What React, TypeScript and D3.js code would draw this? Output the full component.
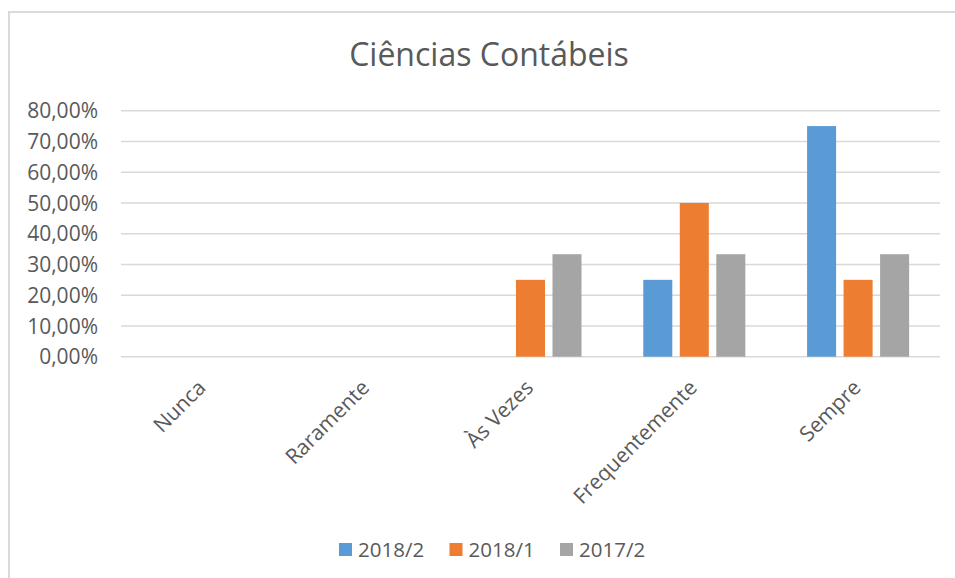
import { useEffect, useRef } from 'react';
import * as d3 from 'd3';

const categories = ['Nunca', 'Raramente', 'Às Vezes', 'Frequentemente', 'Sempre'];
const seriesNames = ['2018/2', '2018/1', '2017/2'];
const serie20182 = [0, 0, 0, 25, 75];
const serie20181 = [0, 0, 25, 50, 25];
const serie20172 = [0, 0, 33.33, 33.33, 33.33];
const yTicks = [0, 10, 20, 30, 40, 50, 60, 70, 80];
const colors = ['#5b9bd5', '#ed7d31', '#a5a5a5'];

const App = () => {
    const chartRef = useRef<SVGSVGElement>(null);

    useEffect(() => {
        const width = 955;
        const height = 578;
        const marginLeft = 121;
        const marginRight = 15;
        const plotTop = 110.7;
        const plotBottom = 356.7;
        const font = '"Open Sans", sans-serif';
        const textColor = '#595959';

        const svg = d3.select(chartRef.current);
        svg.selectAll('*').remove();
        svg.attr('width', width).attr('height', height);

        // moldura do gráfico (só esquerda e topo aparecem)
        svg.append('path')
            .attr('d', `M9,${height} V12 H${width}`)
            .attr('fill', 'none')
            .attr('stroke', '#d9d9d9')
            .attr('stroke-width', 2);

        svg.append('text')
            .attr('x', 489)
            .attr('y', 65.5)
            .attr('text-anchor', 'middle')
            .attr('font-family', font)
            .attr('font-size', 32)
            .attr('fill', textColor)
            .text('Ciências Contábeis');

        const series = [serie20182, serie20181, serie20172];

        const x0 = d3.scaleBand<string>()
            .domain(categories)
            .range([marginLeft, width - marginRight])
            .paddingInner(0.377)
            .paddingOuter(0.1885);

        const x1 = d3.scaleBand<string>()
            .domain(seriesNames)
            .range([0, x0.bandwidth()])
            .paddingInner(0.205);

        const y = d3.scaleLinear()
            .domain([0, 80])
            .range([plotBottom, plotTop]);

        // linhas de grade
        svg.append('g')
            .selectAll('line')
            .data(yTicks)
            .join('line')
            .attr('x1', marginLeft)
            .attr('x2', width - marginRight)
            .attr('y1', d => y(d))
            .attr('y2', d => y(d))
            .attr('stroke', '#d9d9d9')
            .attr('stroke-width', 1.4);

        svg.append('g')
            .selectAll('text')
            .data(yTicks)
            .join('text')
            .attr('x', 98)
            .attr('y', d => y(d))
            .attr('dy', '0.36em')
            .attr('text-anchor', 'end')
            .attr('font-family', font)
            .attr('font-size', 21)
            .attr('fill', textColor)
            .text(d => d3.format('.2f')(d).replace('.', ',') + '%');

        // barras
        const groups = svg.append('g')
            .selectAll('g')
            .data(categories)
            .join('g')
            .attr('transform', d => `translate(${x0(d)},0)`);

        groups.selectAll('rect')
            .data((d, i) => seriesNames.map((s, j) => ({ s, v: series[j][i], c: colors[j] })))
            .join('rect')
            .filter(d => d.v > 0)
            .attr('x', d => x1(d.s)!)
            .attr('y', d => y(d.v))
            .attr('width', x1.bandwidth())
            .attr('height', d => y(0) - y(d.v))
            .attr('fill', d => d.c);

        // rótulos das categorias
        svg.append('g')
            .selectAll('text')
            .data(categories)
            .join('text')
            .attr('transform', d => `translate(${x0(d)! + x0.bandwidth() / 2 + 4},389) rotate(-45)`)
            .attr('text-anchor', 'end')
            .attr('font-family', font)
            .attr('font-size', 21)
            .attr('fill', textColor)
            .text(d => d);

        // legenda
        const legend = svg.append('g')
            .selectAll('g')
            .data(seriesNames)
            .join('g')
            .attr('transform', (d, i) => `translate(${339 + i * 110.5},0)`);

        legend.append('rect')
            .attr('x', 0)
            .attr('y', 543)
            .attr('width', 13)
            .attr('height', 13)
            .attr('fill', (d, i) => colors[i]);

        legend.append('text')
            .attr('x', 19)
            .attr('y', 556.5)
            .attr('font-family', font)
            .attr('font-size', 20.5)
            .attr('fill', textColor)
            .text(d => d);
    }, []);

    return <svg ref={chartRef} style={{ position: 'absolute', left: 0, top: 0 }} />;
};

export default App;
